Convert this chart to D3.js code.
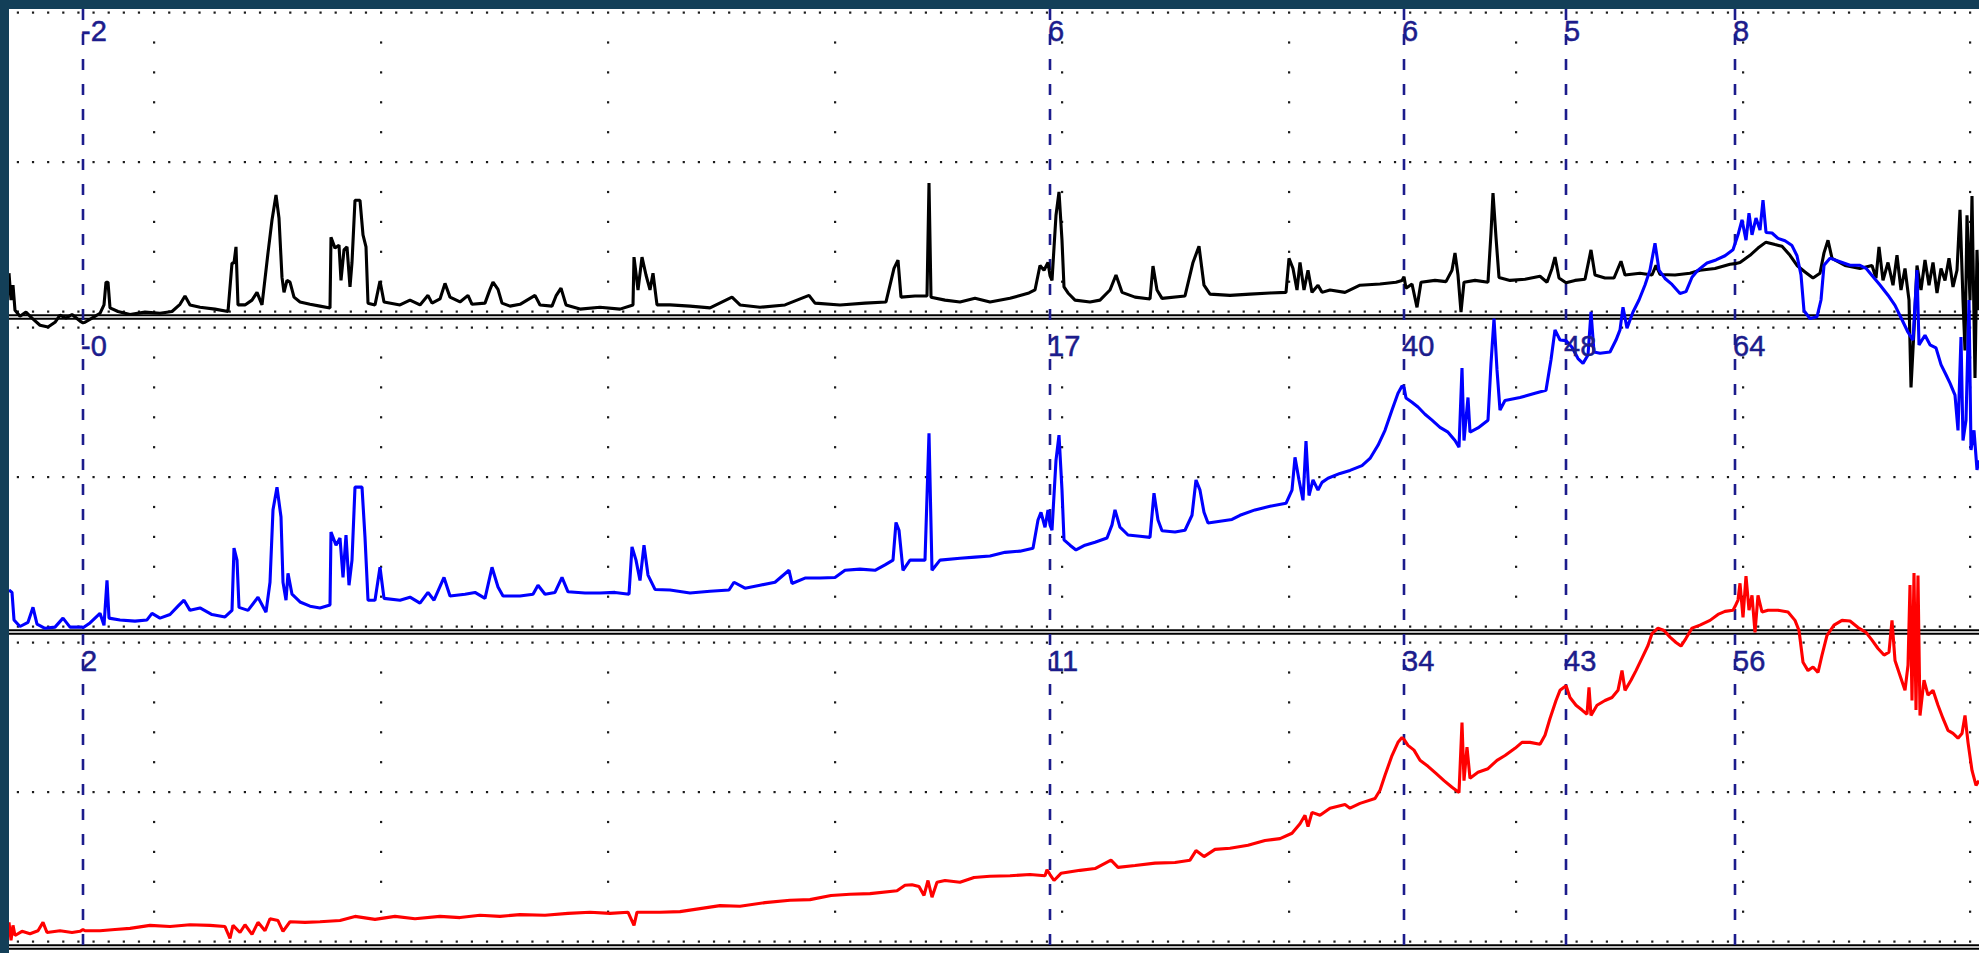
<!DOCTYPE html>
<html>
<head>
<meta charset="utf-8">
<script src="https://cdn.jsdelivr.net/npm/d3@7"></script>
<style>
  html, body { margin: 0; padding: 0; background: #133f58; overflow: hidden; }
  svg { display: block; }
</style>
</head>
<body>
<svg id="chart" width="1979" height="953"></svg>
<script>
// Three stacked trend panels sharing one time axis, with five cursor readouts.

// Sample positions of the cursors and the value each trace reads at them.
const cursorTimes   = [74, 1041, 1395, 1557, 1726];
const blackReadout  = ["-2", "6", "6", "5", "8"];
const blueReadout   = ["-0", "17", "40", "48", "64"];
const redReadout    = ["2", "11", "34", "43", "56"];

// Grid: major time divisions and the value lines drawn in every panel.
const gridTimes  = [145, 372, 599, 826, 1053, 1280, 1507, 1734, 1961];
const gridValues = [0, 25, 50];

// Trace samples as [time, value].
const blackTrace = [[0,6.4],[2,1.9],[4,4.4],[6,0.2],[11,-0.8],[17,-0.1],[23,-1.1],[31,-2.3],[39,-2.6],[46,-1.8],[51,-0.6],[57,-1.1],[63,-0.5],[71,-1.6],[74,-1.9],[76,-1.8],[83,-1.1],[91,-0.3],[95,1.1],[97,4.9],[99,4.9],[101,0.6],[109,0],[121,-0.5],[136,-0.1],[151,-0.3],[163,0],[171,1.2],[176,2.6],[181,1.1],[191,0.7],[206,0.4],[219,0],[223,8.1],[225,8.1],[227,10.8],[229,1.1],[236,1.1],[243,1.9],[248,3.2],[253,1.1],[259,9.8],[263,15.3],[267,19.5],[270,15.6],[273,5.7],[275,3.2],[278,5.2],[281,4.9],[285,2.4],[291,1.6],[301,1.2],[311,0.9],[321,0.6],[322,12.4],[326,10.6],[330,11.1],[332,5.2],[335,10.3],[338,10.8],[341,4.1],[343,8.2],[346,18.6],[351,18.6],[354,12.8],[357,10.8],[359,1.4],[366,1.1],[371,5.1],[375,1.6],[391,1.1],[401,1.9],[411,1.1],[419,2.7],[423,1.4],[431,2.1],[436,4.7],[441,2.4],[451,1.6],[459,2.7],[463,1.2],[476,1.4],[481,3.7],[484,4.9],[489,3.7],[493,1.4],[501,0.9],[511,1.2],[526,2.7],[531,1.1],[543,0.9],[547,2.6],[552,3.9],[557,1.1],[571,0.4],[591,0.7],[611,0.4],[624,1.1],[625,9.1],[629,3.6],[633,9.1],[637,6.1],[641,3.6],[644,6.4],[648,1.1],[661,1.1],[681,0.9],[701,0.6],[723,2.4],[731,1.1],[751,0.7],[776,1.1],[800,2.7],[806,1.4],[831,1.1],[856,1.4],[877,1.6],[881,4.4],[885,7.2],[889,8.6],[892,2.4],[906,2.6],[918,2.6],[920,21.5],[922,2.4],[936,1.9],[951,1.6],[966,2.2],[981,1.6],[1001,2.2],[1020,3.1],[1026,3.6],[1031,7.7],[1035,6.9],[1039,8.2],[1041,6],[1043,5.2],[1047,16.1],[1050,20.0],[1053,11.9],[1055,4.1],[1059,3.1],[1066,1.9],[1081,1.6],[1091,1.9],[1101,3.6],[1107,6.1],[1113,3.2],[1126,2.4],[1141,2.1],[1144,7.6],[1148,3.6],[1153,2.2],[1176,2.6],[1184,8.2],[1190,10.9],[1195,4.4],[1201,2.9],[1221,2.7],[1241,2.9],[1261,3.1],[1277,3.2],[1280,8.9],[1284,7.2],[1288,3.6],[1291,8.2],[1295,3.6],[1299,6.9],[1303,3.2],[1309,4.4],[1313,3.2],[1321,3.6],[1336,3.2],[1351,4.4],[1371,4.6],[1387,4.9],[1393,5.2],[1395,5.8],[1397,3.9],[1403,4.6],[1408,0.7],[1412,4.9],[1426,5.2],[1437,5.0],[1443,6.9],[1446,9.8],[1449,6.1],[1452,-0.1],[1455,4.9],[1466,5.2],[1479,4.9],[1482,13.1],[1484,19.8],[1487,12.4],[1490,5.7],[1501,5.2],[1516,5.4],[1531,5.9],[1538,4.9],[1543,7.2],[1546,9.1],[1550,5.6],[1557,4.8],[1566,5.2],[1576,5.4],[1582,10.3],[1586,6.1],[1596,5.6],[1605,5.6],[1612,8.4],[1616,6.1],[1631,6.4],[1643,6.1],[1647,7.7],[1651,6.2],[1666,6.1],[1681,6.4],[1691,6.9],[1706,7.2],[1721,7.9],[1726,8.0],[1731,8.2],[1741,9.4],[1749,10.6],[1757,11.6],[1766,11.2],[1773,10.9],[1781,9.4],[1788,7.7],[1796,6.6],[1804,5.6],[1811,6.4],[1815,9.8],[1819,11.9],[1823,8.9],[1836,7.7],[1851,7.2],[1863,7.7],[1867,5.6],[1870,10.8],[1874,5.2],[1879,8.2],[1884,4.4],[1888,9.4],[1892,3.6],[1896,7.2],[1900,1.9],[1902,-12.7],[1905,-3.1],[1908,7.7],[1912,3.6],[1916,8.6],[1920,4.4],[1924,8.2],[1928,3.1],[1932,7.2],[1936,5.2],[1940,8.9],[1944,4.1],[1948,6.9],[1951,17.0],[1954,1.9],[1956,-6.5],[1958,16.1],[1961,1.9],[1963,19.3],[1966,-11.1],[1968,10.3],[1970,0.2]];

const blueTrace = [[0,6.1],[3,5.7],[5,1.1],[11,0],[19,0.7],[24,3.2],[28,0.4],[36,-0.3],[46,-0.1],[54,1.4],[61,-0.1],[73,-0.1],[74,-0.2],[81,0.6],[91,2.2],[95,0.2],[98,7.7],[100,1.4],[111,1.1],[126,0.9],[138,1.1],[143,2.2],[151,1.4],[161,2.0],[169,3.4],[175,4.4],[181,2.7],[191,3.1],[203,2.0],[216,1.6],[223,2.7],[225,13.1],[228,11.1],[230,3.2],[239,2.7],[249,4.9],[257,2.4],[261,7.4],[264,19.5],[268,23.3],[272,18.3],[274,7.4],[277,4.4],[279,8.9],[283,5.4],[291,4.1],[301,3.4],[311,3.1],[321,3.6],[322,15.8],[327,13.6],[331,14.8],[334,8.2],[337,15.3],[340,6.9],[343,11.1],[346,23.3],[353,23.3],[356,14.9],[359,4.4],[366,4.4],[371,9.9],[375,4.7],[391,4.4],[401,4.9],[411,3.9],[419,5.7],[425,4.4],[435,8.2],[441,5.1],[456,5.4],[466,5.7],[476,4.7],[483,9.9],[489,6.6],[494,5.1],[511,5.1],[524,5.4],[529,6.9],[536,5.4],[546,5.7],[553,8.2],[559,5.8],[576,5.6],[591,5.6],[606,5.7],[620,5.4],[623,13.3],[627,11.1],[631,7.7],[635,13.6],[639,8.6],[646,6.2],[661,6.1],[681,5.6],[701,5.9],[720,6.1],[725,7.4],[736,6.4],[751,6.9],[766,7.4],[780,9.4],[783,7.2],[796,8.1],[811,8.1],[826,8.2],[836,9.4],[851,9.6],[866,9.4],[876,10.3],[884,11.1],[887,17.4],[890,16.1],[894,9.4],[901,11.1],[916,11.1],[920,32.3],[923,9.4],[931,11.1],[951,11.4],[966,11.6],[981,11.8],[996,12.4],[1011,12.6],[1024,13.1],[1029,17.8],[1032,19.1],[1036,16.6],[1039,19.5],[1041,17.0],[1043,16.1],[1047,27.8],[1050,32.0],[1053,22.8],[1055,14.5],[1061,13.6],[1067,12.8],[1076,13.6],[1086,14.1],[1098,14.8],[1103,17.0],[1106,19.5],[1111,16.6],[1119,15.3],[1131,15.1],[1141,14.9],[1145,22.3],[1149,17.8],[1153,16.0],[1166,15.8],[1176,16.1],[1183,18.6],[1187,24.5],[1191,22.8],[1195,19.1],[1199,17.3],[1211,17.6],[1223,17.9],[1231,18.6],[1246,19.5],[1261,20.1],[1277,20.6],[1283,22.8],[1286,28.3],[1290,24.5],[1294,21.1],[1297,31.0],[1300,21.9],[1304,24.5],[1309,22.8],[1313,24.1],[1319,24.8],[1331,25.6],[1341,26.1],[1353,26.9],[1361,28.1],[1369,30.3],[1376,32.8],[1383,36.2],[1389,39.0],[1393,40.2],[1395,40.0],[1397,38.2],[1403,37.5],[1409,36.7],[1416,35.5],[1423,34.5],[1431,33.3],[1439,32.5],[1446,31.1],[1450,30.0],[1453,43.2],[1455,31.1],[1459,38.3],[1461,32.5],[1469,33.2],[1479,34.5],[1482,44.0],[1485,51.5],[1488,42.9],[1491,36.2],[1496,37.8],[1511,38.3],[1526,39.0],[1537,39.5],[1542,44.6],[1546,49.6],[1551,47.9],[1557,47.8],[1563,46.7],[1569,44.8],[1574,44.0],[1579,45.4],[1582,52.6],[1585,45.9],[1591,45.7],[1601,45.9],[1607,47.9],[1611,49.6],[1614,53.4],[1618,49.9],[1624,52.6],[1630,54.6],[1636,57.1],[1641,59.6],[1646,64.1],[1650,59.6],[1656,58.2],[1663,57.2],[1671,55.7],[1677,56.0],[1683,58.4],[1689,59.6],[1698,60.8],[1707,61.3],[1716,62.0],[1724,63.0],[1726,64.0],[1729,65.5],[1733,68.0],[1737,64.6],[1740,69.1],[1743,65.5],[1747,68.3],[1751,66.3],[1754,71.3],[1757,65.9],[1763,65.8],[1769,64.9],[1776,64.5],[1783,63.7],[1788,62.0],[1792,58.8],[1795,52.8],[1801,51.5],[1808,51.8],[1812,54.6],[1815,60.4],[1821,61.6],[1831,61.0],[1841,60.4],[1851,60.4],[1857,59.9],[1863,58.7],[1871,57.1],[1879,55.4],[1886,53.7],[1893,51.3],[1899,49.2],[1904,47.9],[1908,59.6],[1910,47.1],[1916,48.7],[1921,47.1],[1927,46.6],[1932,43.8],[1937,42.1],[1941,40.7],[1946,38.7],[1949,32.8],[1952,48.4],[1954,31.1],[1957,34.5],[1960,54.6],[1962,29.5],[1965,32.8],[1968,26.2],[1970,27.8]];

const redTrace = [[0,3.2],[2,0.2],[4,2.7],[6,1.0],[13,1.7],[21,1.3],[29,1.8],[34,3.2],[38,1.5],[51,1.8],[63,1.5],[71,1.7],[74,2.0],[76,1.8],[91,1.8],[106,2.0],[121,2.2],[141,2.7],[161,2.5],[181,2.8],[201,2.7],[216,2.5],[221,0.5],[224,2.7],[231,1.5],[236,2.8],[243,1.2],[249,3.2],[256,1.8],[261,3.8],[269,3.5],[274,1.7],[281,3.3],[296,3.2],[311,3.3],[331,3.5],[346,4.2],[366,3.7],[386,4.2],[406,3.8],[431,4.2],[451,4.0],[471,4.4],[491,4.2],[511,4.5],[536,4.4],[559,4.7],[581,4.9],[601,4.7],[619,4.9],[625,2.7],[628,4.9],[651,4.9],[671,5.0],[691,5.5],[711,6.0],[731,5.9],[756,6.5],[781,6.9],[801,7.0],[822,7.7],[841,7.9],[861,8.0],[888,8.5],[896,9.4],[903,9.5],[910,9.2],[915,7.7],[919,10.2],[923,7.4],[928,9.9],[936,10.2],[951,9.9],[965,10.7],[981,10.9],[1001,11.0],[1021,11.2],[1036,11.0],[1038,12.0],[1041,11.2],[1045,10.2],[1052,11.4],[1071,11.9],[1086,12.2],[1102,13.6],[1109,12.4],[1126,12.7],[1146,13.1],[1166,13.2],[1181,13.6],[1187,15.2],[1195,14.2],[1206,15.4],[1221,15.6],[1239,16.1],[1256,16.9],[1271,17.2],[1283,18.1],[1291,19.7],[1296,21.1],[1299,19.2],[1303,21.6],[1311,21.1],[1321,22.3],[1336,22.9],[1341,22.3],[1351,23.1],[1366,23.9],[1371,25.3],[1376,27.8],[1383,31.1],[1389,33.3],[1393,34.1],[1395,33.8],[1399,32.8],[1405,32.0],[1411,30.3],[1419,29.3],[1427,28.1],[1435,26.9],[1443,25.8],[1450,24.9],[1453,36.6],[1455,26.9],[1458,32.5],[1461,27.3],[1469,28.3],[1479,28.9],[1488,30.3],[1496,31.1],[1506,32.3],[1513,33.3],[1521,33.3],[1531,33.0],[1536,34.5],[1541,37.3],[1547,40.3],[1551,42.0],[1555,42.5],[1557,42.8],[1561,40.8],[1567,39.5],[1573,38.7],[1578,38.0],[1580,42.5],[1582,37.8],[1588,39.5],[1596,40.3],[1603,40.8],[1609,42.0],[1613,45.3],[1616,42.0],[1622,43.7],[1627,45.3],[1633,47.4],[1639,49.5],[1643,51.5],[1649,52.4],[1655,52.0],[1661,50.9],[1667,50.0],[1672,49.4],[1677,50.7],[1683,52.4],[1691,52.9],[1701,53.7],[1709,54.7],[1716,55.2],[1724,55.4],[1726,56.0],[1729,57.1],[1731,59.9],[1734,54.2],[1737,61.1],[1740,55.4],[1743,57.9],[1746,51.7],[1749,57.9],[1753,55.1],[1759,55.4],[1769,55.4],[1779,55.1],[1786,53.7],[1790,52.0],[1794,46.7],[1799,45.3],[1804,45.9],[1809,45.0],[1813,47.9],[1818,51.2],[1825,52.9],[1833,53.7],[1841,53.6],[1849,52.5],[1857,51.7],[1863,50.4],[1869,49.0],[1875,47.9],[1880,48.4],[1883,53.7],[1886,47.0],[1891,44.5],[1896,42.0],[1899,46.2],[1901,59.6],[1903,40.3],[1905,61.6],[1907,38.7],[1909,61.2],[1911,37.8],[1915,43.7],[1919,41.2],[1924,42.0],[1929,39.5],[1934,37.3],[1939,35.3],[1944,34.8],[1949,34.0],[1953,34.8],[1956,37.8],[1959,33.3],[1963,28.6],[1967,26.1],[1970,26.9]];

// ---- layout ----
const W = 1979, H = 953;
const frame = { left: 9, top: 9 };
const panelPitch = 315;           // vertical distance between stacked panels
const panelFirstSep = 2;          // separator above the first panel
const gridTopPad = 10.5, gridBottomPad = 5.5;

const svg = d3.select("#chart");

// frame background and plotting surface
svg.append("rect").attr("width", W).attr("height", H).attr("fill", "#133f58");
svg.append("rect").attr("x", frame.left).attr("y", frame.top)
  .attr("width", W - frame.left).attr("height", H - frame.top).attr("fill", "#ffffff");

const plot = svg.append("g");
plot.append("clipPath").attr("id", "plotClip").append("rect")
  .attr("x", frame.left).attr("y", frame.top).attr("width", W - frame.left).attr("height", H - frame.top);
const g = plot.append("g").attr("clip-path", "url(#plotClip)");

const x = d3.scaleLinear().domain([0, 1970]).range([frame.left, W]);

function panelScale(k) {
  const sepTop = panelFirstSep + panelPitch * k;
  return d3.scaleLinear().domain([0, 50])
    .range([sepTop + panelPitch - gridBottomPad, sepTop + gridTopPad]);
}
const yPanels = [panelScale(0), panelScale(1), panelScale(2)];

// ---- dotted grid ----
const dotColor = "#1a1a1a";
const minorStep = (gridTimes[1] - gridTimes[0]) / 15;
const hDotTimes = [];
for (let t = gridTimes[0] - Math.floor(gridTimes[0] / minorStep) * minorStep; t <= 1971; t += minorStep) hDotTimes.push(t);

const gridG = g.append("g");
yPanels.forEach((y) => {
  gridValues.forEach((v) => {
    gridG.append("g").selectAll("rect").data(hDotTimes).join("rect")
      .attr("x", d => x(d) - 1).attr("y", y(v) - 1)
      .attr("width", 2.2).attr("height", 2.2).attr("fill", dotColor);
  });
  const vDots = d3.range(5, 50, 5).filter(v => v !== 25);
  gridTimes.forEach((t) => {
    gridG.append("g").selectAll("rect").data(vDots).join("rect")
      .attr("x", x(t) - 1).attr("y", d => y(d) - 1)
      .attr("width", 2.2).attr("height", 2.2).attr("fill", dotColor);
  });
});

// ---- panel separators (double rule) ----
const sepG = g.append("g");
[1, 2, 3].forEach((k) => {
  const ys = panelFirstSep + panelPitch * k;
  [ys - 1.8, ys + 1.8].forEach((yy) => {
    sepG.append("line").attr("x1", frame.left).attr("x2", W)
      .attr("y1", yy).attr("y2", yy)
      .attr("stroke", "#000").attr("stroke-width", 1.9);
  });
});

// ---- cursor lines ----
const cursorColor = "#1c1c8c";
g.append("g").selectAll("line").data(cursorTimes).join("line")
  .attr("x1", d => x(d)).attr("x2", d => x(d))
  .attr("y1", frame.top).attr("y2", H)
  .attr("stroke", cursorColor).attr("stroke-width", 2.6)
  .attr("stroke-dasharray", "11 14");

// ---- traces ----
const line = (y) => d3.line().x(d => x(d[0])).y(d => y(d[1]));
const traces = [
  { data: blackTrace, y: yPanels[0], color: "#000000" },
  { data: blueTrace,  y: yPanels[1], color: "#0000ff" },
  { data: redTrace,   y: yPanels[2], color: "#ff0000" }
];
traces.forEach((tr) => {
  g.append("path").datum(tr.data)
    .attr("d", line(tr.y))
    .attr("fill", "none")
    .attr("stroke", tr.color)
    .attr("stroke-width", 3.1)
    .attr("stroke-linejoin", "bevel");
});

// ---- cursor readouts at the top of each panel ----
const readouts = [blackReadout, blueReadout, redReadout];
readouts.forEach((labels, k) => {
  const sepTop = panelFirstSep + panelPitch * k;
  g.append("g").selectAll("text").data(labels).join("text")
    .attr("x", (d, i) => x(cursorTimes[i]) - 2)
    .attr("y", sepTop + 39)
    .attr("font-family", "'Liberation Sans', Arial, sans-serif")
    .attr("font-size", 29)
    .attr("fill", cursorColor)
    .attr("stroke", cursorColor)
    .attr("stroke-width", 0.5)
    .text(d => d);
});
</script>
</body>
</html>
